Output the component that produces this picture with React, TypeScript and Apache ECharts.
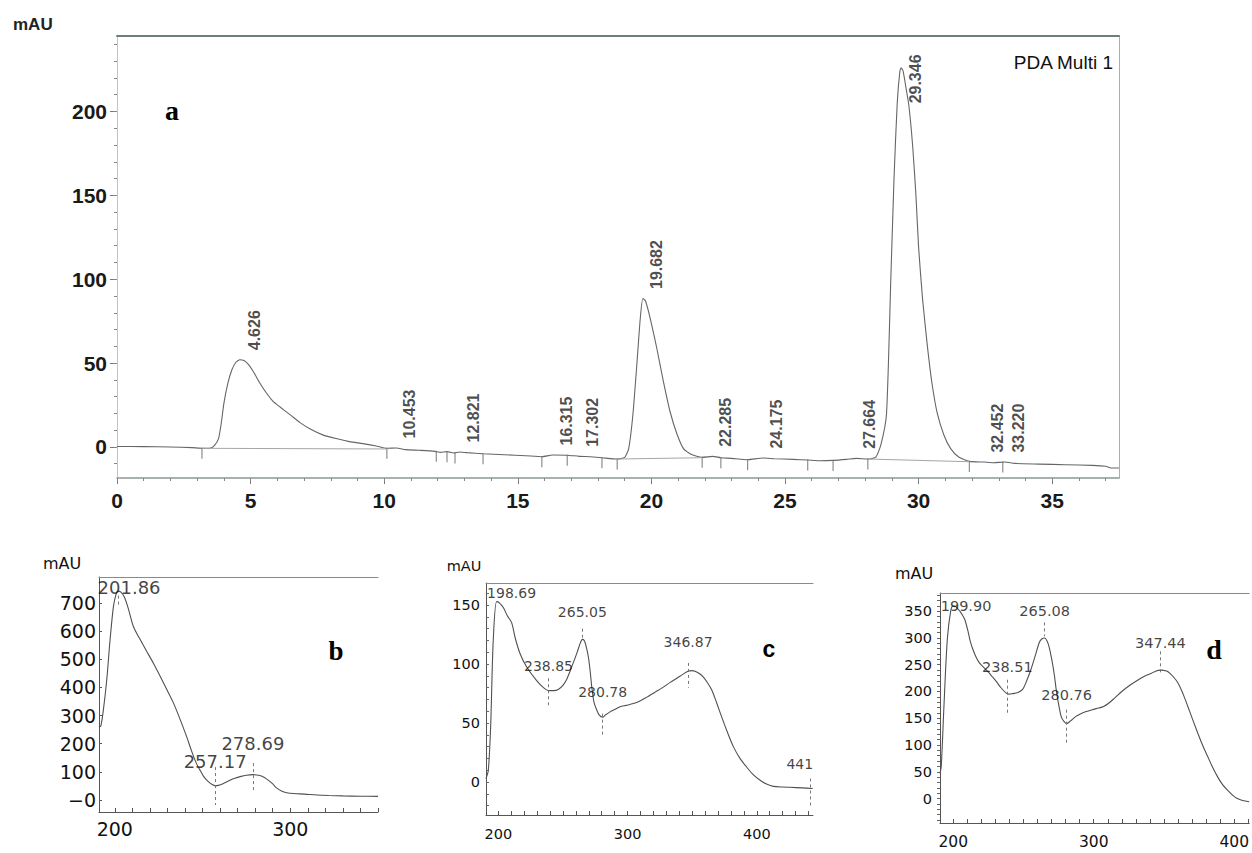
import React, { useEffect, useRef } from "react";
import * as echarts from "echarts";

// ---------- Panel a : chromatogram (PDA Multi 1) ----------
const chromTime = [0, 1.0, 2.0, 2.8, 3.2, 3.5, 3.65, 3.8, 3.9, 4.0, 4.15, 4.3, 4.45, 4.6, 4.75, 4.9, 5.1, 5.35, 5.6, 5.85, 6.05, 6.25, 6.5, 6.85, 7.25, 7.7, 8.2, 8.7, 9.2, 9.7, 10.1, 10.45, 10.8, 11.3, 11.9, 12.1, 12.35, 12.6, 12.82, 13.1, 13.7, 14.5, 15.3, 15.9, 16.3, 16.85, 17.3, 17.7, 18.15, 18.72, 19.0, 19.15, 19.3, 19.45, 19.58, 19.68, 19.78, 19.95, 20.2, 20.45, 20.7, 20.95, 21.2, 21.5, 21.9, 22.285, 22.6, 23.0, 23.6, 24.175, 24.6, 25.3, 25.85, 26.3, 26.8, 27.3, 27.664, 28.1, 28.4, 28.6, 28.8, 28.96, 29.08, 29.2, 29.3, 29.35, 29.42, 29.55, 29.64, 29.78, 29.9, 30.0, 30.15, 30.33, 30.5, 30.7, 30.95, 31.2, 31.5, 31.9, 32.452, 32.8, 33.22, 33.6, 34.5, 35.5, 36.5, 37.0, 37.2, 37.5];
const chromMAU = [0.3, 0.2, 0, -0.4, -0.8, -0.6, 1, 5, 14, 26, 38, 46, 50.5, 52, 51.5, 49.5, 45, 38, 32, 27, 24.5, 22, 19, 14.5, 10.5, 7.2, 5, 3.2, 2, 0.6, -0.8, -0.6, -1.6, -2, -2.6, -3.2, -2.8, -3.6, -3, -3.4, -4, -4.6, -5.2, -5.8, -4.8, -4.9, -5.6, -5.8, -6.4, -7.2, -6.2, -1, 18, 48, 76, 88.5, 87, 77, 59, 39, 21, 8, -1, -4.5, -6.2, -5.6, -6.4, -6.8, -7.6, -6.6, -7, -7.4, -7.8, -8.2, -8, -7.4, -6.8, -7.2, -6, 2, 20, 100, 160, 205, 224, 226, 224, 212, 203, 179, 150, 119, 88, 60, 38, 20, 7, -1, -6, -8.6, -9, -9.4, -9, -9.8, -10.2, -10.6, -11, -11.5, -12.5, -12.5];
const peakTimes = [4.626, 10.453, 12.821, 16.315, 17.302, 19.682, 22.285, 24.175, 27.664, 29.346, 32.452, 33.220];
const peakMAU = [52, -0.6, -3, -4.8, -5.6, 88.5, -5.6, -6.6, -6.8, 226, -9, -9];
const markTimes = [3.18, 10.1, 11.95, 12.35, 12.65, 13.7, 15.9, 16.85, 18.15, 18.72, 21.9, 22.6, 23.6, 25.85, 26.8, 28.1, 31.9, 33.15];
const markMAU = [-0.8, -0.8, -2.6, -2.8, -3.6, -4, -5.8, -4.9, -6.4, -7.2, -6.2, -6.4, -7.6, -7.8, -8, -7.2, -8.6, -9];
const baselineSegments = [[3.18, -0.8, 10.1, -1.2], [18.72, -7.2, 21.9, -6.4], [28.1, -7.2, 31.9, -8.8]];
const aXLabels = [0, 5, 10, 15, 20, 25, 30, 35];
const aYLabels = [0, 50, 100, 150, 200];

// ---------- Panel b : UV spectrum ----------
const bNm = [191, 192, 193.5, 195.4, 197.3, 199.2, 200.7, 201.86, 203.5, 205.5, 207.7, 210.6, 214, 218, 222, 226, 230, 233.4, 237, 241, 244, 246.5, 248.5, 250.5, 253.3, 255.5, 257.17, 259, 262, 265, 268, 272, 275, 278.69, 282, 285, 288, 290, 292.2, 295, 298, 302, 308, 315, 322, 330, 340, 350];
const bMAU = [259, 262, 320, 426, 568, 686, 730, 742, 738, 720, 680, 616, 575, 530, 486, 438, 388, 345, 290, 224, 170, 130, 107, 85, 65, 55, 51, 52, 59, 68, 76, 84, 88, 90, 88, 81, 68, 57, 43, 32, 26, 23, 21, 18, 16, 14.5, 13.5, 13];
const bPeakNm = [201.86, 257.17, 278.69];
const bLabelMAU = [753, 135, 199];
const bDash = [[201.86, 817, 783], [201.86, 726, 690], [257.17, 117, -18], [278.69, 131, 25]];
const bXLabels = [200, 300];
const bYLabels = [0, 100, 200, 300, 400, 500, 600, 700];

// ---------- Panel c : UV spectrum ----------
const cNm = [190.5, 192.3, 194.1, 196.1, 198.69, 200.8, 203.9, 207, 210.4, 212.9, 216.8, 222, 229.7, 235, 238.85, 243, 246.4, 250, 252.9, 255.5, 258, 261, 263.5, 265.05, 266.5, 268, 269.7, 271, 272.3, 274, 276.2, 278, 280.78, 283, 286.5, 290, 294.2, 299, 304.5, 310, 314.9, 321, 327.7, 333, 338.1, 343, 346.87, 350, 352.2, 355.5, 358.7, 362, 365.2, 369, 372.9, 377, 381.9, 387, 392.3, 397, 402.6, 408, 412.8, 420, 425.8, 435, 443.3];
const cMAU = [3, 10, 47, 120, 153, 152, 148, 141, 135, 123, 109, 97.5, 86, 80, 77.5, 77.5, 78.5, 82, 87, 94, 101, 110, 118, 121, 120, 115, 106, 95, 81, 68, 61, 57, 55, 57, 59.5, 61.5, 63.8, 65, 66.5, 69, 72, 76, 80.5, 84.5, 88, 91.5, 94, 94.5, 94, 92, 89, 84, 78, 67, 55, 43, 30, 20, 12.5, 6.5, 1.5, -2, -3.7, -4.3, -4.5, -5, -5.5];
const cPeakNm = [198.69, 265.05, 238.85, 280.78, 346.87, 441];
const cLabelMAU = [160, 144, 98, 76, 118.6, 15];
const cDash = [[198.69, 177, 164], [265.05, 130, 120], [238.85, 88, 63], [280.78, 58, 40], [346.87, 101, 80], [441, 3, -21]];
const cXLabels = [200, 300, 400];
const cYLabels = [0, 50, 100, 150];

// ---------- Panel d : UV spectrum ----------
const dNm = [190.6, 191.5, 193.4, 195.8, 198.2, 199.9, 202, 204.7, 206.5, 208.3, 210.6, 212, 214.1, 216.5, 218.8, 221.7, 224.7, 227.7, 230.6, 234, 237.7, 240, 242.3, 246, 249.4, 252.3, 255.3, 258.3, 261.2, 263, 265.08, 266.7, 268.2, 270, 271.8, 273.5, 275.3, 277, 278.8, 280.76, 283.5, 287.1, 290.5, 294.1, 299, 303.5, 307, 310.6, 315, 320, 326, 331.8, 336.5, 341.1, 344, 347.44, 350, 352.9, 356.5, 360, 363.5, 367, 370.5, 374.1, 377.6, 381.2, 384.7, 388.2, 391.7, 395.3, 398.8, 402.3, 406, 410.6];
const dMAU = [47, 60, 172, 297, 350, 360, 358, 350, 343, 334, 312, 295, 278, 263, 253, 245, 237, 228, 219, 207, 197, 195, 196, 198, 204, 220, 241, 266, 291, 298, 300, 295, 284, 262, 234, 200, 172, 152, 144, 140, 145, 153, 158, 162, 166, 169, 172, 178, 188, 200, 212, 222, 229, 234, 238, 240, 239.5, 237, 228, 216, 196, 172, 147, 122, 99, 78, 58, 40.5, 26, 15.6, 6.5, 0, -3.5, -6];
const dPeakNm = [199.90, 265.08, 238.51, 280.76, 347.44];
const dLabelMAU = [360.6, 351, 246, 194, 291];
const dDash = [[199.90, 406, 376], [265.08, 329, 303], [238.51, 222, 160], [280.76, 166, 104], [347.44, 275, 235]];
const dXLabels = [200, 300, 400];
const dYLabels = [0, 50, 100, 150, 200, 250, 300, 350];

const SANS = "Liberation Sans, Arial, sans-serif";
const DJ = "DejaVu Sans, Verdana, sans-serif";
const SERIF = "Liberation Serif, Times New Roman, serif";

function steps(a: number, b: number, s: number) {
  const out: number[] = [];
  for (let v = a; v <= b + 1e-9; v += s) out.push(Math.round(v * 1000) / 1000);
  return out;
}
const zip = (xs: number[], ys: number[]) => xs.map((x, i) => [x, ys[i]]);

function topLine(grid: number, color: string, width: number) {
  return {
    gridIndex: grid, type: "value", min: 0, max: 1, position: "top",
    axisLine: { show: true, onZero: false, lineStyle: { color, width } },
    axisTick: { show: false }, axisLabel: { show: false }, splitLine: { show: false },
  };
}

function spectrumSeries(
  xi: number, yi: number, nm: number[], mau: number[], peaks: number[], levels: number[],
  dash: number[][], fontSize: number, firstShift: number
) {
  const labelData = peaks.map((p, i) => {
    let shift = 0;
    if (i === 0) shift = firstShift;
    if (Number.isInteger(p)) shift = -10;
    return { value: [p, levels[i]], label: { offset: [shift, 0] } };
  });
  return [
    {
      type: "line", xAxisIndex: xi, yAxisIndex: yi, data: zip(nm, mau), symbol: "none",
      smooth: 0.3, lineStyle: { color: "#505050", width: 1.1 }, z: 3,
    },
    {
      type: "scatter", xAxisIndex: xi, yAxisIndex: yi, data: labelData, symbolSize: 1,
      itemStyle: { color: "rgba(0,0,0,0)" }, z: 5,
      label: {
        show: true, position: "inside", fontFamily: DJ, fontSize, color: "#111",
        formatter: (p: any) => (Number.isInteger(p.value[0]) ? String(p.value[0]) : p.value[0].toFixed(2)),
      },
      markLine: {
        silent: true, symbol: ["none", "none"], label: { show: false },
        lineStyle: { type: [3, 3], color: "#777", width: 1 },
        data: dash.map((d) => [{ coord: [d[0], d[1]] }, { coord: [d[0], d[2]] }]),
      },
    },
  ];
}

export default function App() {
  const ref = useRef<HTMLDivElement>(null);
  useEffect(() => {
    if (!ref.current) return;
    const chart = echarts.init(ref.current, undefined, { renderer: "svg" });

    const option: any = {
      animation: false,
      backgroundColor: "#ffffff",
      grid: [
        { left: 117, top: 36, width: 1002, height: 442 },
        { left: 99, top: 577, width: 279, height: 235 },
        { left: 486, top: 583, width: 327, height: 232 },
        { left: 940, top: 593, width: 312, height: 230 },
      ],
      xAxis: [
        {
          gridIndex: 0, type: "value", min: 0, max: 37.5, position: "bottom",
          axisLine: { onZero: false, lineStyle: { color: "#8c9890", width: 1.5 } },
          axisTick: { customValues: aXLabels, length: 6, lineStyle: { color: "#777" } },
          axisLabel: { customValues: aXLabels, fontFamily: SANS, fontWeight: "bold", fontSize: 21, color: "#1a1a1a", margin: 12 },
          splitLine: { show: false },
        },
        {
          gridIndex: 0, type: "value", min: 0, max: 37.5, position: "bottom",
          axisLine: { show: false, onZero: false },
          axisTick: { customValues: steps(0, 37, 1), length: 3, lineStyle: { color: "#888" } },
          axisLabel: { show: false }, splitLine: { show: false },
        },
        topLine(0, "#6e7f75", 2),
        {
          gridIndex: 1, type: "value", min: 191, max: 350, position: "bottom",
          axisLine: { onZero: false, lineStyle: { color: "#555", width: 1 } },
          axisTick: { customValues: steps(200, 350, 10), inside: true, length: 4, lineStyle: { color: "#555" } },
          axisLabel: { customValues: bXLabels, fontFamily: DJ, fontSize: 19, color: "#111", margin: 7 },
          splitLine: { show: false },
        },
        topLine(1, "#8a8a8a", 1),
        {
          gridIndex: 2, type: "value", min: 190.5, max: 443.5, position: "bottom",
          axisLine: { onZero: false, lineStyle: { color: "#555", width: 1 } },
          axisTick: { customValues: steps(200, 440, 10), inside: true, length: 4, lineStyle: { color: "#555" } },
          axisLabel: { customValues: cXLabels, fontFamily: DJ, fontSize: 14.5, color: "#111", margin: 11 },
          splitLine: { show: false },
        },
        topLine(2, "#8a8a8a", 1),
        {
          gridIndex: 3, type: "value", min: 190.6, max: 410.7, position: "bottom",
          axisLine: { onZero: false, lineStyle: { color: "#555", width: 1 } },
          axisTick: { customValues: steps(200, 410, 10), inside: true, length: 4, lineStyle: { color: "#555" } },
          axisLabel: { customValues: dXLabels, fontFamily: DJ, fontSize: 15.5, color: "#111", margin: 11 },
          splitLine: { show: false },
        },
        topLine(3, "#8a8a8a", 1),
      ],
      yAxis: [
        {
          gridIndex: 0, type: "value", min: -18.5, max: 245, position: "left",
          axisLine: { show: true, onZero: false, lineStyle: { color: "#c4c4c4", width: 1 } },
          axisTick: { customValues: aYLabels, length: 7, lineStyle: { color: "#777" } },
          axisLabel: { customValues: aYLabels, fontFamily: SANS, fontWeight: "bold", fontSize: 21, color: "#1a1a1a", margin: 10 },
          splitLine: { show: false },
        },
        {
          gridIndex: 0, type: "value", min: -18.5, max: 245, position: "left",
          axisLine: { show: false, onZero: false },
          axisTick: { customValues: steps(-10, 240, 10), length: 3, lineStyle: { color: "#888" } },
          axisLabel: { show: false }, splitLine: { show: false },
        },
        {
          gridIndex: 0, type: "value", min: 0, max: 1, position: "right",
          axisLine: { show: true, onZero: false, lineStyle: { color: "#adadad", width: 1 } },
          axisTick: { show: false }, axisLabel: { show: false }, splitLine: { show: false },
        },
        {
          gridIndex: 1, type: "value", min: -42.6, max: 792, position: "left",
          axisLine: { show: true, onZero: false, lineStyle: { color: "#555", width: 1 } },
          axisTick: { customValues: bYLabels, inside: true, length: 3, lineStyle: { color: "#555" } },
          axisLabel: {
            customValues: bYLabels, fontFamily: DJ, fontSize: 19, color: "#111", margin: 3,
            formatter: (v: number) => (v === 0 ? "\u22120" : String(v)),
          },
          splitLine: { show: false },
        },
        {
          gridIndex: 2, type: "value", min: -28, max: 168.8, position: "left",
          axisLine: { show: true, onZero: false, lineStyle: { color: "#555", width: 1 } },
          axisTick: { customValues: steps(-20, 160, 10), inside: true, length: 3, lineStyle: { color: "#666" } },
          axisLabel: { customValues: cYLabels, fontFamily: DJ, fontSize: 14.5, color: "#111", margin: 6 },
          splitLine: { show: false },
        },
        {
          gridIndex: 3, type: "value", min: -45.7, max: 384, position: "left",
          axisLine: { show: true, onZero: false, lineStyle: { color: "#555", width: 1 } },
          axisTick: { customValues: steps(-40, 380, 10), length: 3, lineStyle: { color: "#666" } },
          axisLabel: { customValues: dYLabels, fontFamily: DJ, fontSize: 14.5, color: "#111", margin: 8 },
          splitLine: { show: false },
        },
      ],
      series: [
        {
          type: "line", xAxisIndex: 0, yAxisIndex: 0, data: zip(chromTime, chromMAU), symbol: "none",
          smooth: 0.2, lineStyle: { color: "#666", width: 1.1 }, z: 3,
          markLine: {
            silent: true, symbol: ["none", "none"], label: { show: false },
            lineStyle: { type: "solid", color: "#a6a6a6", width: 1 },
            data: baselineSegments.map((s) => [{ coord: [s[0], s[1]] }, { coord: [s[2], s[3]] }]),
          },
        },
        {
          type: "scatter", xAxisIndex: 0, yAxisIndex: 0, data: zip(markTimes, markMAU),
          symbol: "rect", symbolSize: [1.2, 11], symbolOffset: [0, 5], itemStyle: { color: "#707070" }, z: 4,
        },
        {
          type: "scatter", xAxisIndex: 0, yAxisIndex: 0, symbolSize: 1, itemStyle: { color: "rgba(0,0,0,0)" }, z: 5,
          data: peakTimes.map((t, i) => ({
            value: [t, peakMAU[i]],
            label: peakMAU[i] > 200 ? { position: [15, 36] } : undefined,
          })),
          label: {
            show: true, rotate: 90, position: [14, -9], align: "left", verticalAlign: "middle",
            fontFamily: SANS, fontWeight: "bold", fontSize: 16, color: "#1e1e1e",
            formatter: (p: any) => p.value[0].toFixed(3),
          },
        },
        ...spectrumSeries(3, 3, bNm, bMAU, bPeakNm, bLabelMAU, bDash, 18, 11),
        ...spectrumSeries(5, 4, cNm, cMAU, cPeakNm, cLabelMAU, cDash, 14, 15),
        ...spectrumSeries(7, 5, dNm, dMAU, dPeakNm, dLabelMAU, dDash, 14.5, 13),
      ],
      graphic: [
        { type: "text", x: 13, y: 16, style: { text: "mAU", font: `bold 17px ${SANS}`, fill: "#222" } },
        { type: "text", x: 172, y: 110, style: { text: "a", font: `bold 28px ${SERIF}`, fill: "#000", align: "center", verticalAlign: "middle" } },
        { type: "text", x: 1113, y: 62, style: { text: "PDA Multi 1", font: `19px ${SANS}`, fill: "#111", align: "right", verticalAlign: "middle" } },
        { type: "text", x: 62, y: 563, style: { text: "mAU", font: `16px ${DJ}`, fill: "#111", align: "center", verticalAlign: "middle" } },
        { type: "text", x: 336, y: 651, style: { text: "b", font: `bold 27px ${SERIF}`, fill: "#000", align: "center", verticalAlign: "middle" } },
        { type: "text", x: 464, y: 566, style: { text: "mAU", font: `14.5px ${DJ}`, fill: "#111", align: "center", verticalAlign: "middle" } },
        { type: "text", x: 769, y: 649, style: { text: "c", font: `bold 23px ${SANS}`, fill: "#000", align: "center", verticalAlign: "middle" } },
        { type: "text", x: 914, y: 573, style: { text: "mAU", font: `16px ${DJ}`, fill: "#111", align: "center", verticalAlign: "middle" } },
        { type: "text", x: 1214, y: 649, style: { text: "d", font: `bold 28px ${SERIF}`, fill: "#000", align: "center", verticalAlign: "middle" } },
      ],
    };

    chart.setOption(option);
    return () => chart.dispose();
  }, []);

  return <div ref={ref} style={{ position: "absolute", left: 0, top: 0, width: 1252, height: 853 }} />;
}
